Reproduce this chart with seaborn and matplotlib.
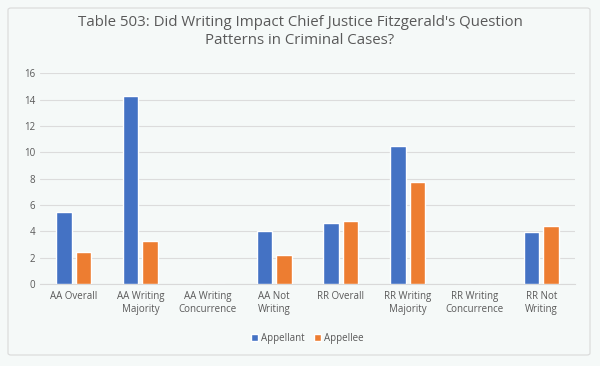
import pandas as pd
import matplotlib.pyplot as plt
import seaborn as sns
from matplotlib.patches import FancyBboxPatch

# datos
categorias = ["AA Overall", "AA Writing\nMajority", "AA Writing\nConcurrence", "AA Not\nWriting",
              "RR Overall", "RR Writing\nMajority", "RR Writing\nConcurrence", "RR Not\nWriting"]
appellant = [5.43, 14.28, 0, 4.02, 4.62, 10.49, 0, 3.91]
appellee = [2.40, 3.23, 0, 2.22, 4.75, 7.78, 0, 4.42]
series = ["Appellant", "Appellee"]
colores = ["#4472C4", "#ED7D31"]

df = pd.DataFrame({
    "categoria": categorias * 2,
    "valor": appellant + appellee,
    "serie": [series[0]] * len(categorias) + [series[1]] * len(categorias),
})

sns.set_style("white")
plt.rcParams["font.family"] = ["Open Sans", "DejaVu Sans"]

fondo = "#f5f9f8"
fig = plt.figure(figsize=(6, 3.66), dpi=100, facecolor=fondo)
ax = fig.add_axes([0.067, 0.224, 0.891, 0.576])
ax.set_facecolor(fondo)

# borde del gráfico
borde = FancyBboxPatch((8 / 600, 1 - 355 / 366), 582 / 600, 347 / 366,
                       boxstyle="round,pad=0,rounding_size=0.005",
                       transform=fig.transFigure, facecolor="none",
                       edgecolor="#d9d9d9", linewidth=0.8, zorder=0)
fig.patches.append(borde)

sns.barplot(data=df, x="categoria", y="valor", hue="serie", palette=colores,
            width=0.58, gap=0.2, ax=ax, zorder=3, saturation=1)

ax.set_ylim(0, 16)
ax.set_yticks(range(0, 17, 2))
ax.set_xlim(-0.5, len(categorias) - 0.5)
ax.grid(axis="y", color="#dcdcdc", linewidth=0.8, zorder=0)
for s in ["top", "right", "left"]:
    ax.spines[s].set_visible(False)
ax.spines["bottom"].set_color("#d9d9d9")
ax.tick_params(axis="both", length=0, labelsize=7, labelcolor="#595959")
ax.tick_params(axis="x", pad=5)
ax.set_xlabel("")
ax.set_ylabel("")

ax.legend(loc="upper center", bbox_to_anchor=(0.5, -0.19), ncol=2, frameon=False,
          fontsize=7, labelcolor="#595959", handlelength=0.7, handleheight=0.7,
          handletextpad=0.3, columnspacing=1.0)

fig.suptitle("Table 503: Did Writing Impact Chief Justice Fitzgerald's Question\nPatterns in Criminal Cases?",
             y=0.96, fontsize=10.8, color="#595959", linespacing=1.35)

fig.savefig("out.png", dpi=100, facecolor=fondo)
